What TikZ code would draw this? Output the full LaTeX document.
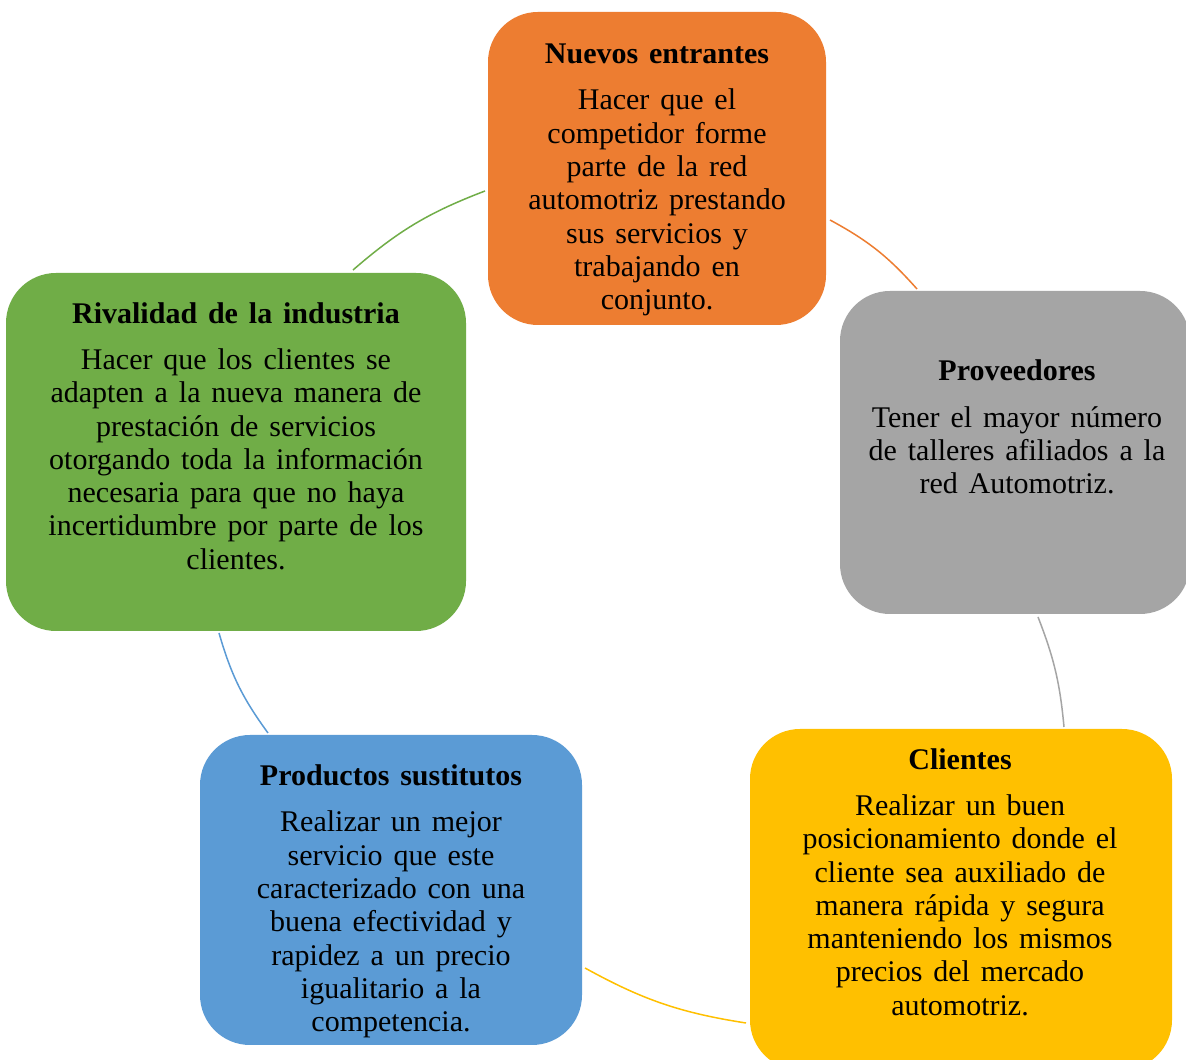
\documentclass[tikz,border=0pt]{standalone}
\usepackage{fontspec}
\setmainfont{Liberation Serif}[WordSpace=1.45]
\definecolor{orangeC}{HTML}{ED7D31}
\definecolor{grayC}{HTML}{A5A5A5}
\definecolor{yellowC}{HTML}{FFC000}
\definecolor{blueC}{HTML}{5B9BD5}
\definecolor{greenC}{HTML}{70AD47}
\begin{document}
\begin{tikzpicture}[x=1pt,y=1pt,
  box/.style={rounded corners=50pt, inner sep=0pt, draw=none},
  txt/.style={align=center, font=\fontsize{30}{33.3}\selectfont, inner sep=0pt},
  arcline/.style={line width=1.5pt}]
\useasboundingbox (0,0) rectangle (1186,1060);
\clip (0,0) rectangle (1186,1060);
\fill[white] (0,0) rectangle (1186,1060);
% boxes
\node[box, fill=orangeC, minimum width=338pt, minimum height=313pt] (ne) at (657,891.5) {};
\node[box, fill=grayC, minimum width=350pt, minimum height=323pt] (pr) at (1015,607.5) {};
\node[box, fill=yellowC, minimum width=422pt, minimum height=341pt] (cl) at (961,160.5) {};
\node[box, fill=blueC, minimum width=382pt, minimum height=310pt] (ps) at (391,170) {};
\node[box, fill=greenC, minimum width=460pt, minimum height=358pt] (ri) at (236,608) {};
% texts
\node[txt] (ne-t) at (657,880) {\textbf{Nuevos entrantes}\\[13pt]
  Hacer que el\\ competidor forme\\ parte de la red\\ automotriz prestando\\ sus servicios y\\ trabajando en\\ conjunto.};
\node[txt] (pr-t) at (1017,633) {\textbf{Proveedores}\\[13pt]
  Tener el mayor número\\ de talleres afiliados a la\\ red Automotriz.};
\node[txt] (ri-t) at (236,624) {\textbf{Rivalidad de la industria}\\[13pt]
  Hacer que los clientes se\\ adapten a la nueva manera de\\ prestación de servicios\\ otorgando toda la información\\ necesaria para que no haya\\ incertidumbre por parte de los\\ clientes.};
\node[txt] (ps-t) at (391,158.5) {\textbf{Productos sustitutos}\\[13pt]
  Realizar un mejor\\ servicio que este\\ caracterizado con una\\ buena efectividad y\\ rapidez a un precio\\ igualitario a la\\ competencia.};
\node[txt] (cl-t) at (960,178) {\textbf{Clientes}\\[13pt]
  Realizar un buen\\ posicionamiento donde el\\ cliente sea auxiliado de\\ manera rápida y segura\\ manteniendo los mismos\\ precios del mercado\\ automotriz.};
% connector end points
\coordinate (g1) at (353,790); \coordinate (g2) at (485,869);
\coordinate (o1) at (830,840); \coordinate (o2) at (917,771);
\coordinate (a1) at (1038,443); \coordinate (a2) at (1064,333);
\coordinate (y1) at (746,37); \coordinate (y2) at (585,92);
\coordinate (b1) at (268,327); \coordinate (b2) at (219,427);
% arcs
\draw[arcline, greenC] (g1) to[bend left=10] (g2);
\draw[arcline, orangeC] (o1) to[bend left=10] (o2);
\draw[arcline, grayC] (a1) to[bend left=8] (a2);
\draw[arcline, yellowC] (y1) to[bend left=10] (y2);
\draw[arcline, blueC] (b1) to[bend left=10] (b2);
\end{tikzpicture}
\end{document}
